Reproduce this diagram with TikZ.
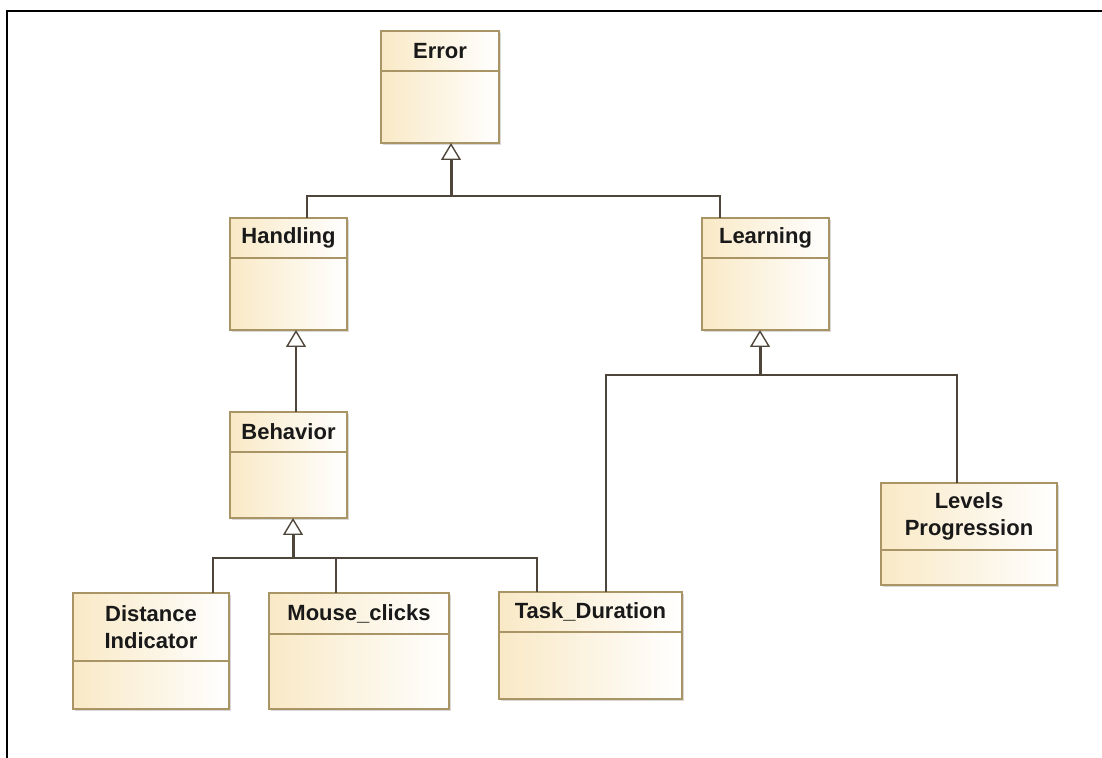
\documentclass[tikz,border=0pt]{standalone}
\usepackage{fontspec}
\newfontfamily\umlfont{Liberation Sans}
\usetikzlibrary{arrows.meta,shadows}
\definecolor{classfill}{RGB}{249,233,198}
\definecolor{classedge}{RGB}{168,148,100}
\definecolor{linkcol}{RGB}{78,70,58}
\tikzset{
  classbox/.style={draw=classedge, line width=1.5bp, left color=classfill, right color=white,
    anchor=north west, inner sep=0pt, outer sep=0pt,
    drop shadow={shadow xshift=2bp, shadow yshift=-2bp, fill=black!30, opacity=0.5}},
  classsep/.style={draw=classedge, line width=1.2bp},
  classname/.style={font=\umlfont\bfseries\fontsize{22bp}{27bp}\selectfont, text=black!90,
    align=center, inner sep=0pt},
  link/.style={draw=linkcol, line width=2bp},
  genlink/.style={draw=linkcol, -{Triangle[open, length=17bp, width=20bp, line width=1.4bp]}},
}
\begin{document}
\begin{tikzpicture}[x=1bp,y=1bp]
  \useasboundingbox (0,0) rectangle (1102,758);
  % frame
  \draw[line width=2bp] (7,0) -- (7,747) -- (1102,747);
%%
  % Node: Error
  \node[classbox, minimum width=118bp, minimum height=112bp] (err) at (381,727) {};
  \draw[classsep] ([yshift=-40bp]err.north west) -- ([yshift=-40bp]err.north east);
  \node[classname] (err-t) at ([yshift=-20bp]err.north) {Error};
  % Node: Handling
  \node[classbox, minimum width=117bp, minimum height=112bp] (hand) at (230,540) {};
  \draw[classsep] ([yshift=-40bp]hand.north west) -- ([yshift=-40bp]hand.north east);
  \node[classname] (hand-t) at ([yshift=-20bp]hand.north) {Handling};
  % Node: Learning
  \node[classbox, minimum width=127bp, minimum height=112bp] (learn) at (702,540) {};
  \draw[classsep] ([yshift=-40bp]learn.north west) -- ([yshift=-40bp]learn.north east);
  \node[classname] (learn-t) at ([yshift=-20bp]learn.north) {Learning};
  % Node: Behavior
  \node[classbox, minimum width=117bp, minimum height=106bp] (beh) at (230,346) {};
  \draw[classsep] ([yshift=-40bp]beh.north west) -- ([yshift=-40bp]beh.north east);
  \node[classname] (beh-t) at ([yshift=-20bp]beh.north) {Behavior};
  % Node: Levels Progression
  \node[classbox, minimum width=176bp, minimum height=102bp] (lev) at (881,275) {};
  \draw[classsep] ([yshift=-67bp]lev.north west) -- ([yshift=-67bp]lev.north east);
  \node[classname] (lev-t) at ([yshift=-33.5bp]lev.north) {Levels\\Progression};
  % Node: Distance Indicator
  \node[classbox, minimum width=156bp, minimum height=116bp] (dist) at (73,165) {};
  \draw[classsep] ([yshift=-68bp]dist.north west) -- ([yshift=-68bp]dist.north east);
  \node[classname] (dist-t) at ([yshift=-34bp]dist.north) {Distance\\Indicator};
  % Node: Mouse_clicks
  \node[classbox, minimum width=180bp, minimum height=116bp] (mouse) at (269,165) {};
  \draw[classsep] ([yshift=-41bp]mouse.north west) -- ([yshift=-41bp]mouse.north east);
  \node[classname] (mouse-t) at ([yshift=-20.5bp]mouse.north) {Mouse\_clicks};
  % Node: Task_Duration
  \node[classbox, minimum width=183bp, minimum height=107bp] (task) at (499,166) {};
  \draw[classsep] ([yshift=-40bp]task.north west) -- ([yshift=-40bp]task.north east);
  \node[classname] (task-t) at ([yshift=-20bp]task.north) {Task\_Duration};
%%
  \coordinate (errbus) at (451,562);
  \coordinate (learnbus) at (760,383);
  \coordinate (behbus) at (293,200);
  % Edge: Handling -> Error, Learning -> Error
  \draw[link] ([xshift=18.5bp]hand.north) |- (errbus);
  \draw[link] ([xshift=-45.5bp]learn.north) |- (errbus);
  \draw[genlink, line width=3bp] (errbus) -- (errbus |- err.south);
  % Edge: Behavior -> Handling
  \draw[genlink, line width=2bp] ([xshift=7.5bp]beh.north) -- ([xshift=7.5bp]hand.south);
  % Edge: Distance, Mouse_clicks, Task_Duration -> Behavior
  \draw[link] ([xshift=62bp]dist.north) |- (behbus);
  \draw[link] ([xshift=-23bp]mouse.north) |- (behbus);
  \draw[link] ([xshift=-53.5bp]task.north) |- (behbus);
  \draw[genlink, line width=3bp] (behbus) -- (behbus |- beh.south);
  % Edge: Task_Duration, Levels Progression -> Learning
  \draw[link] ([xshift=15.5bp]task.north) |- (learnbus);
  \draw[link] ([xshift=-12bp]lev.north) |- (learnbus);
  \draw[genlink, line width=3bp] (learnbus) -- (learnbus |- learn.south);
%
\end{tikzpicture}
\end{document}
